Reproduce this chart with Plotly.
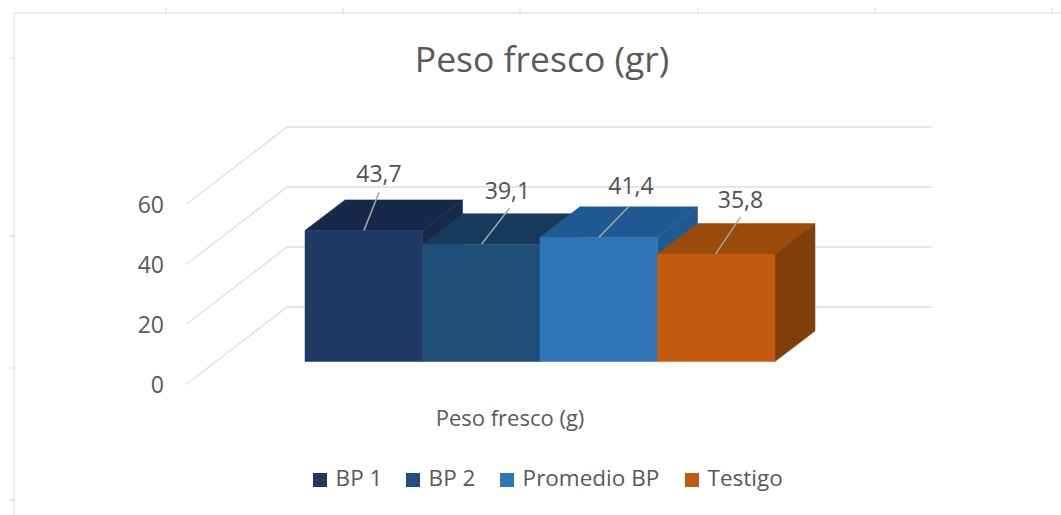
import plotly.graph_objects as go

# --- data ---
series = ["BP 1", "BP 2", "Promedio BP", "Testigo"]
values = [43.7, 39.1, 41.4, 35.8]
category = "Peso fresco (g)"
y_ticks = [0, 20, 40, 60]
chart_title = "Peso fresco (gr)"

# --- styles ---
front_colors = ["#1f3864", "#1f4e79", "#2e75b6", "#c55a11"]
top_colors = ["#16294b", "#163a5b", "#205a92", "#9a4b0c"]
side_colors = ["#16294b", "#163a5b", "#205a92", "#7f3f0b"]
TEXT = "#595959"
GRID = "#dedede"
FONT = "Open Sans"

# --- oblique projection: horizontal pixels, value units on y ---
W, H = 1061, 515
PX_PER_UNIT = 3.0
FLOOR_Y = 384.5
WALL_DX, WALL_DY = 101.0, 77.5
WALL_LEFT, WALL_RIGHT = 186.0, 932.0
BAR_LEFT, BAR_W = 305.0, 117.5
BAR_LIFT = 23.0            # front of the bars sits behind the floor's front edge
BAR_DX, BAR_DY = 40.0, 30.5


def lift(px):
    return px / PX_PER_UNIT


fig = go.Figure()


def poly(xs, ys, color):
    fig.add_trace(go.Scatter(x=xs, y=ys, mode="lines", fill="toself", fillcolor=color,
                             line=dict(width=0.5, color=color), hoverinfo="skip", showlegend=False))


# walls' gridlines
for t in y_ticks:
    fig.add_trace(go.Scatter(
        x=[WALL_LEFT, WALL_LEFT + WALL_DX, WALL_RIGHT],
        y=[t, t + lift(WALL_DY), t + lift(WALL_DY)],
        mode="lines", line=dict(color=GRID, width=1.3), hoverinfo="skip", showlegend=False))

# bars
base = lift(BAR_LIFT)
dz = lift(BAR_DY)
for i, v in enumerate(values):
    x0 = BAR_LEFT + i * BAR_W
    x1 = x0 + BAR_W
    poly([x0, x0 + BAR_DX, x1 + BAR_DX, x1, x0],
         [v + base, v + base + dz, v + base + dz, v + base, v + base], top_colors[i])
    poly([x1, x1 + BAR_DX, x1 + BAR_DX, x1, x1],
         [base, base + dz, v + base + dz, v + base, base], side_colors[i])
    poly([x0, x1, x1, x0, x0], [base, base, v + base, v + base, base], front_colors[i])

# data labels with leader lines
leader_dx = [59, 59, 59, 58]
leader_end_dx = [74, 87, 89, 83]
leader_end_dy = [38, 36, 31, 37]
label_dx = [74, 85, 91, 83]
label_dy = [54, 51, 49, 52]
for i, v in enumerate(values):
    x0 = BAR_LEFT + i * BAR_W
    top = v + base
    fig.add_trace(go.Scatter(
        x=[x0 + leader_dx[i], x0 + leader_end_dx[i]],
        y=[top, top + lift(leader_end_dy[i])],
        mode="lines", line=dict(color="#a6a6a6", width=1.5), hoverinfo="skip", showlegend=False))
    fig.add_trace(go.Scatter(
        x=[x0 + label_dx[i]], y=[top + lift(label_dy[i])], mode="text",
        text=[f"{v:.1f}".replace(".", ",")], textposition="middle center",
        textfont=dict(family=FONT, size=23, color="#505050"), hoverinfo="skip", showlegend=False))

# legend row
legend_x = [320, 413, 507, 692]
legend_y = lift(FLOOR_Y - 480)
for name, color, lx in zip(series, front_colors, legend_x):
    fig.add_trace(go.Scatter(
        x=[lx], y=[legend_y], mode="markers+text", text=[" " + name], textposition="middle right",
        marker=dict(symbol="square", size=14, color=color, line=dict(width=0)),
        textfont=dict(family=FONT, size=22.5, color=TEXT), hoverinfo="skip", showlegend=False))

# chart frame with its small handles
frame = "#dcdcdc"
shapes = [
    dict(type="line", xref="x", yref="paper", x0=14, x1=W, y0=1 - 13 / H, y1=1 - 13 / H,
         line=dict(color=frame, width=1)),
    dict(type="line", xref="x", yref="paper", x0=14, x1=14, y0=1 - 13 / H, y1=0,
         line=dict(color=frame, width=1)),
]
for tx in [166, 343, 520, 698, 875, 1052]:
    shapes.append(dict(type="line", xref="x", yref="paper", x0=tx, x1=tx,
                       y0=1 - 8 / H, y1=1 - 14 / H, line=dict(color=frame, width=1)))
for ty in [58, 236, 368, 500]:
    shapes.append(dict(type="line", xref="x", yref="paper", x0=9, x1=15,
                       y0=1 - ty / H, y1=1 - ty / H, line=dict(color=frame, width=1)))

fig.update_layout(
    width=W, height=H, autosize=False,
    margin=dict(l=0, r=0, t=0, b=0),
    paper_bgcolor="white", plot_bgcolor="white",
    showlegend=False, shapes=shapes,
    title=dict(text=chart_title, x=542 / W, xanchor="center", y=1 - 60 / H, yanchor="middle",
               xref="paper", yref="paper", font=dict(family=FONT, size=35.5, color=TEXT)),
    xaxis=dict(range=[0, W], domain=[0, 1], anchor="free", position=1 - 403 / H,
               tickmode="array", tickvals=[BAR_LEFT + 2 * BAR_W - 30], ticktext=[category],
               ticks="", showgrid=False, zeroline=False, showline=False,
               tickfont=dict(family=FONT, size=22, color=TEXT), fixedrange=True),
    yaxis=dict(range=[(FLOOR_Y - H) / PX_PER_UNIT, FLOOR_Y / PX_PER_UNIT], domain=[0, 1],
               anchor="free", position=164 / W,
               tickmode="array", tickvals=y_ticks, ticktext=[str(t) for t in y_ticks],
               ticks="", showgrid=False, zeroline=False, showline=False,
               tickfont=dict(family=FONT, size=23, color=TEXT), fixedrange=True),
)

fig.write_html("out.html", config={"displayModeBar": False},
               post_script="document.body.style.margin='0';")
